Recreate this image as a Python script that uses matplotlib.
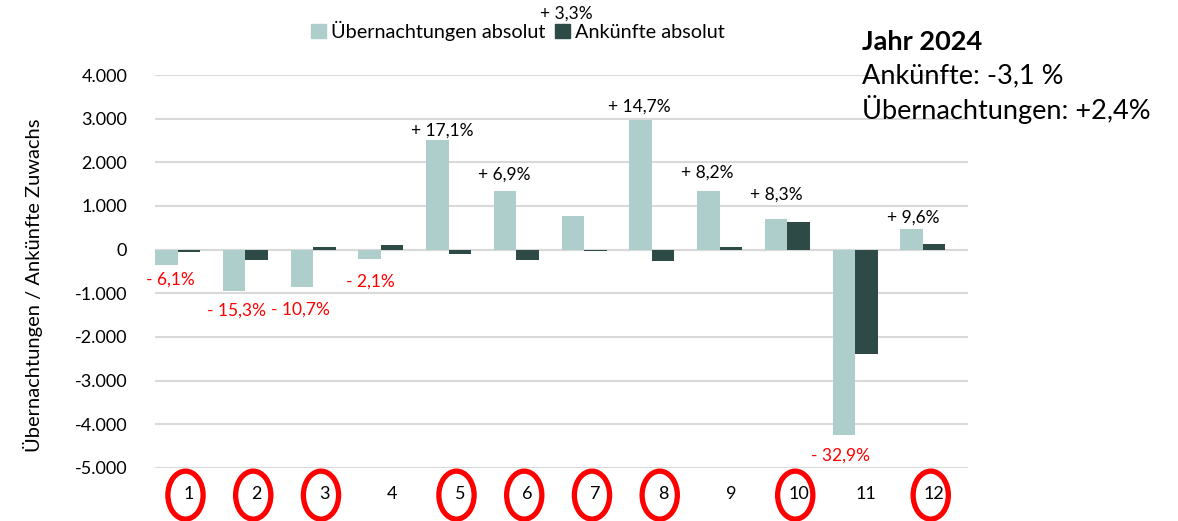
import matplotlib
matplotlib.use("Agg")
import matplotlib.pyplot as plt
from matplotlib.patches import Ellipse, Patch
from matplotlib.transforms import blended_transform_factory

plt.rcParams['font.family'] = ['Lato', 'DejaVu Sans']

# Monthly change vs. previous year (absolute) and relative change of overnight stays
months = list(range(1, 13))
uebernachtungen = [-340, -950, -850, -220, 2500, 1340, 780, 2980, 1340, 710, -4250, 480]
ankuenfte = [-45, -230, 55, 110, -110, -230, -40, -260, 50, 640, -2390, 130]
pct_uebernachtungen = [-6.1, -15.3, -10.7, -2.1, 17.1, 6.9, 3.3, 14.7, 8.2, 8.3, -32.9, 9.6]
highlighted = [1, 2, 3, 5, 6, 7, 8, 10, 12]
yticks = [4000, 3000, 2000, 1000, 0, -1000, -2000, -3000, -4000, -5000]

col_light = "#AECECB"
col_dark = "#2D4A47"
grid_col = "#D9D9D9"

# label offsets (pixels) relative to the tip of each overnight-stays bar
label_offsets = [(4, 15), (2, 19), (-1, 23), (1, 22), (5, -10), (-1, -17),
                 (-6, -202), (-1, -13), (-1, -19), (0, -24), (-3, 20), (2, -11)]

fig = plt.figure(figsize=(11.78, 5.21), dpi=100)
ax = fig.add_axes([155 / 1178, 1 - 468 / 521, 813 / 1178, 393 / 521])

w = 1 / 3
x_u = [m - w for m in months]
ax.bar(x_u, uebernachtungen, width=w, color=col_light, zorder=3, linewidth=0)
ax.bar(months, ankuenfte, width=w, color=col_dark, zorder=3, linewidth=0)

ax.set_xlim(0.5, 12.5)
ax.set_ylim(-5000, 4000)
ax.set_yticks(yticks)
ax.set_yticklabels([f"{v:,}".replace(",", ".") for v in yticks], fontsize=13)
ax.set_xticks(months)
ax.set_xticklabels([str(m) for m in months], fontsize=13)
ax.tick_params(axis='y', length=0, pad=20)
ax.tick_params(axis='x', length=0, pad=13)
ax.grid(axis='y', color=grid_col, linewidth=1.5, zorder=0)
ax.axhline(0, color=grid_col, linewidth=1.5, zorder=1)
for s in ax.spines.values():
    s.set_visible(False)

# percentage labels
for xm, val, pct, (dx, dy) in zip(x_u, uebernachtungen, pct_uebernachtungen, label_offsets):
    sign = "+" if pct > 0 else "-"
    txt = f"{sign} {abs(pct):.1f}%".replace(".", ",")
    ax.annotate(txt, xy=(xm, val), xytext=(dx, -dy), textcoords='offset pixels',
                ha='center', va='center', fontsize=12.5,
                color='black' if pct > 0 else '#FF0000', annotation_clip=False)

# red ellipses around selected month labels
trans = blended_transform_factory(ax.transData, ax.transAxes)
for m in highlighted:
    e = Ellipse((m - 0.05, -0.069), width=0.52, height=0.122, transform=trans,
                fill=False, edgecolor='#FF0000', linewidth=3.8, clip_on=False)
    ax.add_patch(e)

ax.set_ylabel("Übernachtungen / Ankünfte Zuwachs", fontsize=14.5, va='center')
ax.yaxis.set_label_coords(-0.150, 0.466)

handles = [Patch(color=col_light), Patch(color=col_dark)]
fig.legend(handles, ["Übernachtungen absolut", "Ankünfte absolut"],
           loc='center', bbox_to_anchor=(518 / 1178, 1 - 31 / 521), ncol=2,
           frameon=False, fontsize=14.3, handlelength=0.75, handleheight=0.75,
           handletextpad=0.25, columnspacing=0.5)

fig.text(862 / 1178, 1 - 42 / 521, "Jahr 2024", fontsize=19.5, fontweight='bold', va='center')
fig.text(862 / 1178, 1 - 76 / 521, "Ankünfte: -3,1 %", fontsize=19.5, va='center')
fig.text(862 / 1178, 1 - 109 / 521, "Übernachtungen: +2,4%", fontsize=19.5, va='center')

fig.savefig("out.png", dpi=100)
